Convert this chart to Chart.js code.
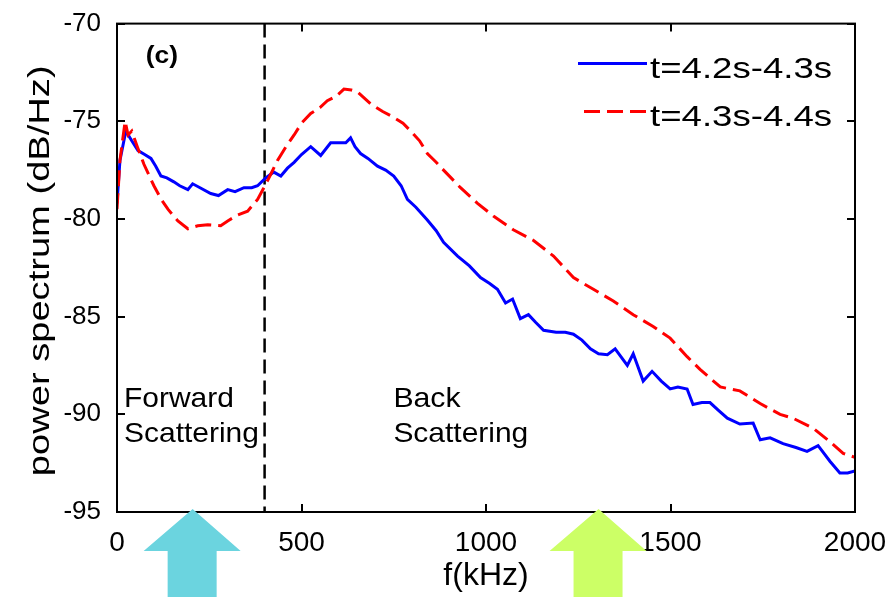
<!DOCTYPE html>
<html>
<head>
<meta charset="utf-8">
<script src="https://cdn.jsdelivr.net/npm/chart.js@4.4.1/dist/chart.umd.min.js"></script>
<style>
    html, body { margin: 0; padding: 0; background: #ffffff; }
</style>
</head>
<body>
<canvas id="spectrumChart" width="893" height="597"></canvas>
<script>
// DATA

const seriesLabels = ["t=4.2s-4.3s", "t=4.3s-4.4s"];

// t=4.2s-4.3s (solid blue)
const freqEarly = [0, 8, 24, 40, 57, 75, 92, 105, 119, 135, 154, 170, 192, 205, 225, 254, 275, 300,
    320, 344, 365, 381, 403, 425, 444, 462, 480, 500, 525, 552, 579, 600, 620, 633, 645, 660, 680,
    706, 728, 750, 770, 787, 810, 841, 865, 885, 923, 955, 985, 1010, 1031, 1053, 1072, 1093, 1115,
    1135, 1156, 1190, 1215, 1237, 1260, 1283, 1305, 1329, 1350, 1383, 1399, 1426, 1450, 1475, 1499,
    1520, 1545, 1561, 1585, 1607, 1630, 1654, 1688, 1724, 1743, 1770, 1805, 1840, 1870, 1900, 1932,
    1959, 1980, 2000];
const powerEarly = [-79.2, -77.0, -75.5, -76.0, -76.5, -76.7, -76.9, -77.3, -77.8, -77.9, -78.1, -78.3,
    -78.5, -78.2, -78.4, -78.7, -78.8, -78.5, -78.6, -78.4, -78.4, -78.3, -77.9, -77.6, -77.8, -77.4,
    -77.1, -76.7, -76.3, -76.75, -76.1, -76.1, -76.1, -75.85, -76.3, -76.65, -76.9, -77.3, -77.5,
    -77.8, -78.3, -79.0, -79.4, -80.05, -80.6, -81.2, -81.9, -82.4, -83.0, -83.3, -83.6, -84.3, -84.1,
    -85.1, -84.9, -85.3, -85.7, -85.8, -85.8, -85.9, -86.2, -86.65, -86.9, -86.95, -86.65, -87.5,
    -86.9, -88.3, -87.8, -88.3, -88.7, -88.6, -88.7, -89.5, -89.4, -89.4, -89.8, -90.2, -90.5, -90.45,
    -91.3, -91.2, -91.5, -91.7, -91.9, -91.6, -92.4, -93.0, -93.0, -92.9];

// t=4.3s-4.4s (dashed red)
const freqLate = [0, 8, 22, 30, 40, 55, 73, 100, 120, 138, 165, 192, 219, 246, 281, 300, 327, 354,
    381, 398, 417, 435, 458, 480, 500, 525, 550, 570, 595, 615, 635, 652, 687, 720, 750, 775, 796,
    820, 841, 865, 885, 931, 977, 1020, 1074, 1129, 1183, 1237, 1291, 1345, 1399, 1453, 1499, 1545,
    1580, 1635, 1688, 1743, 1797, 1832, 1886, 1932, 1968, 2000];
const powerLate = [-79.5, -77.0, -75.0, -75.7, -75.5, -76.3, -77.2, -78.3, -79.0, -79.5, -80.1, -80.5,
    -80.35, -80.3, -80.35, -80.1, -79.8, -79.6, -79.0, -78.4, -77.7, -77.0, -76.3, -75.7, -75.1, -74.6,
    -74.3, -73.95, -73.7, -73.35, -73.4, -73.5, -74.1, -74.5, -74.8, -75.1, -75.5, -76.0, -76.65,
    -77.1, -77.5, -78.4, -79.2, -79.85, -80.55, -81.1, -81.9, -83.0, -83.6, -84.2, -84.9, -85.5,
    -86.1, -87.05, -87.7, -88.6, -88.8, -89.45, -90.0, -90.2, -90.7, -91.4, -92.0, -92.2];

const xTicks = [0, 500, 1000, 1500, 2000];
const yTicks = [-95, -90, -85, -80, -75, -70];

// boundary between forward and back scattering
const dividerFreq = 400;
// frequencies the two arrows point at
const arrowFreqs = [205, 1305];

const FONT = '"Liberation Sans", Arial, sans-serif';

// draw text squeezed/stretched along its reading direction
function stretchedText(ctx, str, x, y, size, stretch, weight) {
    ctx.save();
    ctx.font = (weight || "normal") + " " + size + "px " + FONT;
    ctx.translate(x, y);
    ctx.scale(stretch, 1);
    ctx.fillStyle = "#000";
    ctx.textAlign = "left";
    ctx.textBaseline = "alphabetic";
    ctx.fillText(str, 0, 0);
    ctx.restore();
}

function drawArrow(ctx, tipX, tipY, color) {
    ctx.save();
    ctx.fillStyle = color;
    ctx.beginPath();
    ctx.moveTo(tipX, tipY);
    ctx.lineTo(tipX + 48, tipY + 42);
    ctx.lineTo(tipX + 24, tipY + 42);
    ctx.lineTo(tipX + 24, 597);
    ctx.lineTo(tipX - 25, 597);
    ctx.lineTo(tipX - 25, tipY + 42);
    ctx.lineTo(tipX - 49, tipY + 42);
    ctx.closePath();
    ctx.fill();
    ctx.restore();
}

// frame, inward ticks, legend, labels and arrows
const decorations = {
    id: "decorations",
    afterDraw(chart) {
        const ctx = chart.ctx;
        const area = chart.chartArea;
        const xs = chart.scales.x;
        const ys = chart.scales.y;

        ctx.save();
        ctx.strokeStyle = "#000";
        ctx.lineWidth = 2;
        ctx.strokeRect(area.left, area.top, area.right - area.left, area.bottom - area.top);
        ctx.beginPath();
        xTicks.forEach(v => {
            const px = Math.round(xs.getPixelForValue(v));
            ctx.moveTo(px, area.bottom); ctx.lineTo(px, area.bottom - 8);
            ctx.moveTo(px, area.top); ctx.lineTo(px, area.top + 8);
        });
        yTicks.forEach(v => {
            const py = Math.round(ys.getPixelForValue(v));
            ctx.moveTo(area.left, py); ctx.lineTo(area.left + 8, py);
            ctx.moveTo(area.right, py); ctx.lineTo(area.right - 8, py);
        });
        ctx.stroke();
        ctx.restore();

        // y axis title, rotated
        ctx.save();
        ctx.translate(49, (area.top + area.bottom) / 2 + 3);
        ctx.rotate(-Math.PI / 2);
        ctx.font = "30px " + FONT;
        ctx.scale(1.27, 1);
        ctx.textAlign = "center";
        ctx.fillStyle = "#000";
        ctx.fillText("power spectrum (dB/Hz)", 0, 0);
        ctx.restore();

        // legend in the upper right corner
        const lx = area.right - 277;
        const rows = [area.top + 40, area.top + 88];
        chart.data.datasets.slice(0, 2).forEach((ds, i) => {
            ctx.save();
            ctx.strokeStyle = ds.borderColor;
            ctx.lineWidth = 3;
            ctx.setLineDash(ds.borderDash || []);
            ctx.beginPath();
            ctx.moveTo(lx + (i ? 6 : 0), rows[i]);
            ctx.lineTo(lx + 69, rows[i]);
            ctx.stroke();
            ctx.restore();
            stretchedText(ctx, ds.label, lx + 72, rows[i] + 14, 30, 1.22);
        });

        // panel tag and region labels
        stretchedText(ctx, "(c)", xs.getPixelForValue(78), ys.getPixelForValue(-72.0), 24, 1.1, "bold");
        stretchedText(ctx, "Forward", xs.getPixelForValue(19), ys.getPixelForValue(-89.6), 28, 1.07);
        stretchedText(ctx, "Scattering", xs.getPixelForValue(19), ys.getPixelForValue(-91.4), 28, 1.07);
        stretchedText(ctx, "Back", xs.getPixelForValue(749), ys.getPixelForValue(-89.65), 28, 1.08);
        stretchedText(ctx, "Scattering", xs.getPixelForValue(749), ys.getPixelForValue(-91.4), 28, 1.07);

        // arrows under the axis
        drawArrow(ctx, xs.getPixelForValue(arrowFreqs[0]), area.bottom - 3, "#6bd4df");
        drawArrow(ctx, xs.getPixelForValue(arrowFreqs[1]), area.bottom - 3, "#ccff66");
    }
};

const ctx = document.getElementById("spectrumChart");

new Chart(ctx, {
    type: "line",
    data: {
        datasets: [
            {
                label: seriesLabels[0],
                data: freqEarly.map((f, i) => ({ x: f, y: powerEarly[i] })),
                borderColor: "#0000ff",
                borderWidth: 3,
                pointRadius: 0,
                tension: 0,
                order: 2
            },
            {
                label: seriesLabels[1],
                data: freqLate.map((f, i) => ({ x: f, y: powerLate[i] })),
                borderColor: "#ff0000",
                borderWidth: 3,
                borderDash: [16, 7],
                pointRadius: 0,
                tension: 0,
                order: 1
            },
            {
                label: "divider",
                data: [{ x: dividerFreq, y: -70 }, { x: dividerFreq, y: -95 }],
                borderColor: "#000000",
                borderWidth: 2.5,
                borderDash: [14, 7],
                pointRadius: 0,
                order: 3
            }
        ]
    },
    options: {
        responsive: false,
        animation: false,
        layout: {
            padding: { top: 14, right: 38, left: 0, bottom: 0 }
        },
        plugins: {
            legend: { display: false },
            tooltip: { enabled: false }
        },
        scales: {
            x: {
                type: "linear",
                min: 0,
                max: 2000,
                afterBuildTicks: scale => { scale.ticks = xTicks.map(v => ({ value: v })); },
                afterFit: scale => { scale.height = 85; },
                grid: { display: false },
                border: { display: false },
                ticks: {
                    color: "#000",
                    font: { family: FONT, size: 28 },
                    padding: 6,
                    maxRotation: 0,
                    callback: v => String(v)
                },
                title: {
                    display: true,
                    text: "f(kHz)",
                    color: "#000",
                    font: { family: FONT, size: 32 },
                    padding: { top: 0, bottom: 2 }
                }
            },
            y: {
                type: "linear",
                min: -95,
                max: -70,
                afterBuildTicks: scale => { scale.ticks = yTicks.map(v => ({ value: v })); },
                afterFit: scale => { scale.width = 117; },
                grid: { display: false },
                border: { display: false },
                ticks: {
                    color: "#000",
                    font: { family: FONT, size: 26 },
                    padding: 8
                }
            }
        }
    },
    plugins: [decorations]
});
</script>
</body>
</html>
